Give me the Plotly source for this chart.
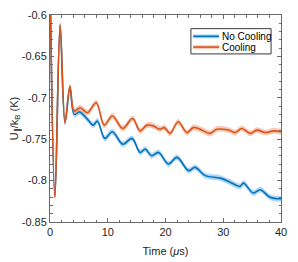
import plotly.graph_objects as go

# Time (us) and energy (K)
t_nocool = [0.1, 0.85, 1.75, 2.6, 3.45, 4.2, 5.1, 6.5, 7.5, 8.2, 9.5, 10.8, 12.6, 14.2,
            15.6, 16.5, 17.6, 18.8, 20.5, 22.0, 24.0, 25.1, 26.9, 29.5, 31.2, 32.9,
            33.5, 35.2, 36.4, 38.1, 40.0]
u_nocool = [-0.600, -0.820, -0.612, -0.730, -0.688, -0.720, -0.717, -0.726, -0.733, -0.728,
            -0.749, -0.741, -0.756, -0.749, -0.766, -0.762, -0.770, -0.766, -0.780, -0.772,
            -0.788, -0.784, -0.794, -0.797, -0.802, -0.807, -0.803, -0.815, -0.811, -0.820,
            -0.822]

t_cool = [0.1, 0.85, 1.75, 2.6, 3.45, 4.2, 5.2, 6.5, 8.0, 9.4, 10.8, 12.6, 14.3, 15.6,
          16.8, 17.9, 19.0, 19.8, 20.8, 22.2, 23.7, 24.8, 26.0, 27.7, 28.9, 30.9, 32.1,
          33.2, 34.7, 35.8, 37.3, 38.7, 40.0]
u_cool = [-0.600, -0.820, -0.612, -0.730, -0.686, -0.716, -0.712, -0.718, -0.706, -0.733,
          -0.722, -0.737, -0.725, -0.740, -0.733, -0.734, -0.738, -0.736, -0.743, -0.729,
          -0.742, -0.736, -0.738, -0.743, -0.738, -0.739, -0.742, -0.737, -0.743, -0.739,
          -0.742, -0.740, -0.741]

band_halfwidth = 0.0035  # shaded uncertainty band

series_names = ["No Cooling", "Cooling"]
x_ticks = [0, 10, 20, 30, 40]
y_ticks = [-0.85, -0.8, -0.75, -0.7, -0.65, -0.6]
y_ticklabels = ["-0.85", "-0.8", "-0.75", "-0.7", "-0.65", "-0.6"]

BLUE = "#0072BD"
ORANGE = "#D95319"
BLUE_BAND = "rgba(125,188,236,0.6)"
ORANGE_BAND = "rgba(242,165,135,0.6)"
FONT = "Liberation Sans, Arial"
AXC = "#6b6b6b"

fig = go.Figure()


def add_series(t, u, color, band, name):
    upper = [v + band_halfwidth for v in u]
    lower = [v - band_halfwidth for v in u]
    fig.add_trace(go.Scatter(x=t, y=upper, mode="lines", line=dict(width=0, shape="spline"),
                             showlegend=False, hoverinfo="skip"))
    fig.add_trace(go.Scatter(x=t, y=lower, mode="lines", line=dict(width=0, shape="spline"),
                             fill="tonexty", fillcolor=band, showlegend=False, hoverinfo="skip"))
    fig.add_trace(go.Scatter(x=t, y=u, mode="lines", name=name, showlegend=False,
                             line=dict(color=color, width=1.6, shape="spline")))


add_series(t_nocool, u_nocool, BLUE, BLUE_BAND, series_names[0])
add_series(t_cool, u_cool, ORANGE, ORANGE_BAND, series_names[1])

axis_common = dict(
    showline=True, linecolor=AXC, linewidth=1, mirror="ticks",
    ticks="inside", ticklen=4, tickwidth=1, tickcolor=AXC,
    showgrid=False, zeroline=False,
    tickfont=dict(family=FONT, size=11, color="#262626"),
)

fig.update_xaxes(
    range=[0, 40], tickvals=x_ticks, automargin=True,
    minor=dict(dtick=2, ticks="inside", ticklen=2.5, tickcolor=AXC, showgrid=False),
    title=dict(text="Time (<i>μ</i>s)", font=dict(family=FONT, size=11, color="#262626"),
               standoff=10),
    **axis_common,
)
fig.update_yaxes(
    range=[-0.85, -0.6], tickvals=y_ticks, ticktext=y_ticklabels, automargin=False,
    minor=dict(dtick=0.01, ticks="inside", ticklen=2.5, tickcolor=AXC, showgrid=False),
    title=dict(text="U<sub>∥</sub>/k<sub>B</sub> (K)",
               font=dict(family=FONT, size=11, color="#262626"), standoff=0),
    **axis_common,
)

# Legend drawn in paper coordinates (compact, as in the reference)
lx0, lx1, ly0, ly1 = 0.610, 0.957, 0.812, 0.934
shapes = [dict(type="rect", xref="paper", yref="paper", x0=lx0, x1=lx1, y0=ly0, y1=ly1,
               line=dict(color="#3a3a3a", width=1), fillcolor="white", layer="above")]
annotations = []
entry_y = [0.897, 0.845]
entry_col = [BLUE, ORANGE]
entry_band = [BLUE_BAND, ORANGE_BAND]
for name, yy, col, bcol in zip(series_names, entry_y, entry_col, entry_band):
    shapes.append(dict(type="line", xref="paper", yref="paper", x0=0.620, x1=0.732,
                       y0=yy, y1=yy, line=dict(color=bcol, width=4), layer="above"))
    shapes.append(dict(type="line", xref="paper", yref="paper", x0=0.620, x1=0.732,
                       y0=yy, y1=yy, line=dict(color=col, width=1.6), layer="above"))
    annotations.append(dict(text=name, xref="paper", yref="paper", x=0.736, y=yy,
                            xanchor="left", yanchor="middle", showarrow=False,
                            font=dict(family=FONT, size=10, color="#000")))

# The page body adds an 8px offset, so the figure is sized to fill the rest of the window
fig.update_layout(
    width=290, height=254,
    margin=dict(l=42, r=17, t=6, b=36),
    plot_bgcolor="white", paper_bgcolor="white",
    showlegend=False,
    shapes=shapes, annotations=annotations,
)

fig.write_html("out.html")
